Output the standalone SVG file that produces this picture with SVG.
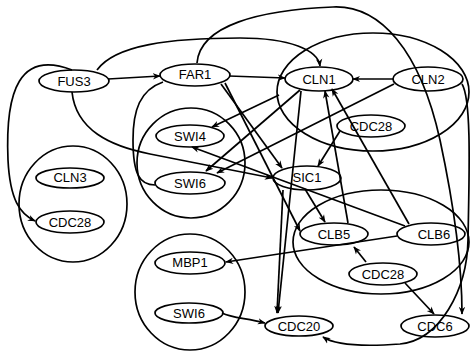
<svg xmlns="http://www.w3.org/2000/svg" width="470" height="351" viewBox="0 0 470 351">
<defs>
<marker id="ah" viewBox="0 0 10 10" refX="9" refY="5" markerWidth="8" markerHeight="8" orient="auto" markerUnits="userSpaceOnUse">
<path d="M0,1 L10,5 L0,9 L3,5 z" fill="#000"/>
</marker>
<style>
.n ellipse{fill:none;stroke:#000;stroke-width:1.7}
.n text{font-family:"Liberation Sans",Arial,sans-serif;font-size:13px;fill:#000;text-anchor:middle;dominant-baseline:central}
.cl{fill:none;stroke:#000;stroke-width:1.7}
.e path{fill:none;stroke:#000;stroke-width:1.7}
.e .a{marker-end:url(#ah)}
</style>
</defs>
<rect width="470" height="351" fill="#fff"/>
<g id="clusters">
<ellipse id="c-top" class="cl" cx="373" cy="92" rx="96" ry="59"/>
<ellipse id="c-swi" class="cl" cx="191" cy="163" rx="54" ry="55"/>
<ellipse id="c-cln3" class="cl" cx="73" cy="204" rx="54" ry="58"/>
<ellipse id="c-clb" class="cl" cx="381" cy="242" rx="88" ry="52"/>
<ellipse id="c-mbp" class="cl" cx="190" cy="292" rx="55" ry="58"/>
</g>
<g class="e" id="edges">
<path class="a" d="M108,79 L160,76"/>
<path class="a" d="M97,70 C115,45 170,38 240,38 C290,38 318,50 320,66"/>
<path class="a" d="M72,70 C20,50 5,90 8,160 C10,200 20,214 35,221"/>
<path class="a" d="M72,92 C76,130 110,146 150,154 L272,178"/>
<path d="M163,82 C140,90 133,110 133,140 C133,175 140,185 155,185"/>
<path class="a" d="M197,63 C200,25 260,10 333,7 C380,5 420,50 440,140 C455,210 462,270 462,314"/>
<path class="a" d="M229,76 L285,78"/>
<path class="a" d="M393,79 L353,79"/>
<path class="a" d="M279,95 L212,127"/>
<path class="a" d="M300,90 L206,171"/>
<path class="a" d="M394,84 L217,173"/>
<path class="a" d="M340,131 L318,166"/>
<path class="a" d="M221,84 L282,168"/>
<path class="a" d="M225,83 L300,231"/>
<path class="a" d="M305,189 L325,222"/>
<path class="a" d="M348,223 L325,91"/>
<path class="a" d="M409,224 L332,89"/>
<path class="a" d="M301,91 L278,313"/>
<path class="a" d="M283,190 L277,313"/>
<path class="a" d="M405,226 L192,147"/>
<path class="a" d="M397,236 L226,262"/>
<path class="a" d="M366,262 L354,247"/>
<path class="a" d="M405,283 L434,314"/>
<path class="a" d="M222,313 C232,318 245,318 265,323"/>
<path class="a" d="M462,84 C472,100 469,180 468,240 C467,290 440,340 400,344 C360,347 335,345 323,337"/>
</g>
<g class="n" id="n-fus3"><ellipse cx="74" cy="81" rx="35" ry="11"/><text x="74" y="81">FUS3</text></g>
<g class="n" id="n-far1"><ellipse cx="195" cy="75" rx="35" ry="11"/><text x="195" y="74">FAR1</text></g>
<g class="n" id="n-cln1"><ellipse cx="319" cy="79" rx="34" ry="12"/><text x="319" y="79">CLN1</text></g>
<g class="n" id="n-cln2"><ellipse cx="428" cy="79" rx="35" ry="12"/><text x="428" y="79">CLN2</text></g>
<g class="n" id="n-cdc28a"><ellipse cx="371" cy="126" rx="34" ry="11"/><text x="371" y="126">CDC28</text></g>
<g class="n" id="n-swi4"><ellipse cx="190" cy="136" rx="34" ry="11"/><text x="190" y="136">SWI4</text></g>
<g class="n" id="n-swi6a"><ellipse cx="190" cy="183" rx="35" ry="11"/><text x="190" y="183">SWI6</text></g>
<g class="n" id="n-cln3"><ellipse cx="70" cy="178" rx="34" ry="10"/><text x="70" y="177">CLN3</text></g>
<g class="n" id="n-cdc28b"><ellipse cx="70" cy="222" rx="34" ry="11"/><text x="70" y="222">CDC28</text></g>
<g class="n" id="n-sic1"><ellipse cx="307" cy="178" rx="34" ry="12"/><text x="307" y="177">SIC1</text></g>
<g class="n" id="n-clb5"><ellipse cx="334" cy="234" rx="34" ry="11"/><text x="334" y="234">CLB5</text></g>
<g class="n" id="n-clb6"><ellipse cx="431" cy="234" rx="34" ry="11"/><text x="434" y="234">CLB6</text></g>
<g class="n" id="n-cdc28c"><ellipse cx="383" cy="274" rx="34" ry="11"/><text x="383" y="274">CDC28</text></g>
<g class="n" id="n-mbp1"><ellipse cx="190" cy="263" rx="35" ry="11"/><text x="190" y="262">MBP1</text></g>
<g class="n" id="n-swi6b"><ellipse cx="189" cy="313" rx="34" ry="10"/><text x="189" y="313">SWI6</text></g>
<g class="n" id="n-cdc20"><ellipse cx="299" cy="326" rx="34" ry="10"/><text x="299" y="326">CDC20</text></g>
<g class="n" id="n-cdc6"><ellipse cx="435" cy="326" rx="34" ry="11"/><text x="435" y="326">CDC6</text></g>
</svg>
